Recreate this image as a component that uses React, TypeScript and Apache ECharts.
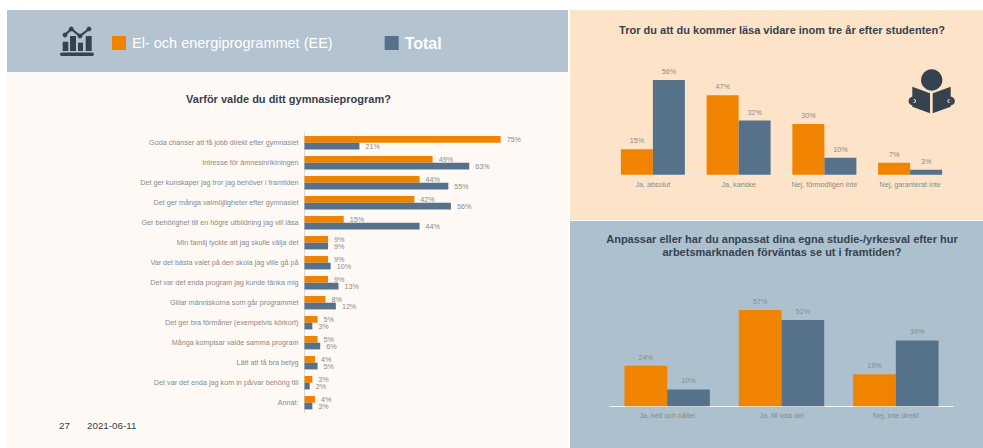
import React, { useEffect, useRef } from "react";
import * as echarts from "echarts";

const seriesEE = "El- och energiprogrammet (EE)";
const seriesTotal = "Total";
const reasonCategories = [
  "Goda chanser att få jobb direkt efter gymnasiet",
  "Intresse för ämnesinriktningen",
  "Det ger kunskaper jag tror jag behöver i framtiden",
  "Det ger många valmöjligheter efter gymnasiet",
  "Ger behörighet till en högre utbildning jag vill läsa",
  "Min familj tyckte att jag skulle välja det",
  "Var det bästa valet på den skola jag ville gå på",
  "Det var det enda program jag kunde tänka mig",
  "Gillar människorna som går programmet",
  "Det ger bra förmåner (exempelvis körkort)",
  "Många kompisar valde samma program",
  "Lätt att få bra betyg",
  "Det var det enda jag kom in på/var behörig till",
  "Annat:",
];
const reasonEE = [75, 49, 44, 42, 15, 9, 9, 9, 8, 5, 5, 4, 3, 4];
const reasonTotal = [21, 63, 55, 56, 44, 9, 10, 13, 12, 3, 6, 5, 2, 3];
const studyCategories = ["Ja, absolut", "Ja, kanske", "Nej, förmodligen inte", "Nej, garanterat inte"];
const studyEE = [15, 47, 30, 7];
const studyTotal = [56, 32, 10, 3];
const adaptCategories = ["Ja, helt och hållet", "Ja, till viss del", "Nej, inte direkt"];
const adaptEE = [24, 57, 19];
const adaptTotal = [10, 51, 39];

const ORANGE = "#f08300";
const BLUE = "#56728a";
const DARK = "#36424f";
const GREY = "#8a8a8a";
const PEACH = "#fde4c8";
const FONT = "'Liberation Sans', Arial, sans-serif";

const pct = (p: any) => `${p.value}%`;

function barSeries(name: string, data: number[], color: string, idx: number, width: number, horizontal: boolean) {
  return {
    type: "bar",
    name,
    data,
    xAxisIndex: idx,
    yAxisIndex: idx,
    barWidth: width,
    barGap: 0,
    itemStyle: { color },
    label: {
      show: true,
      position: horizontal ? "right" : "top",
      distance: horizontal ? 6 : 5,
      formatter: pct,
      fontSize: 7.2,
      fontFamily: FONT,
      color: GREY,
    },
  };
}

function catAxis(idx: number, data: string[], lineColor: string, inverse = false) {
  return {
    type: "category",
    gridIndex: idx,
    data,
    inverse,
    axisLine: { show: true, lineStyle: { color: lineColor, width: 1 } },
    axisTick: { show: false },
    axisLabel: { interval: 0, fontSize: 7.2, fontFamily: FONT, color: GREY, margin: 6 },
  };
}

function valAxis(idx: number) {
  return { type: "value", gridIndex: idx, min: 0, max: 100, show: false, splitLine: { show: false } };
}

const dark = { fill: DARK };
const chartIcon = [
  { type: "rect", shape: { x: 60, y: 52.5, width: 34, height: 3.5, r: 1.7 }, style: dark },
  { type: "rect", shape: { x: 62.7, y: 41.7, width: 5.6, height: 9.3 }, style: dark },
  { type: "rect", shape: { x: 70, y: 36, width: 6, height: 15 }, style: dark },
  { type: "rect", shape: { x: 78, y: 42.7, width: 5, height: 8.3 }, style: dark },
  { type: "rect", shape: { x: 85.7, y: 36, width: 6, height: 15 }, style: dark },
  {
    type: "polyline",
    shape: { points: [[65, 35], [71.3, 29], [80, 36], [89, 29]] },
    style: { stroke: DARK, lineWidth: 2.2, fill: "none" },
  },
  { type: "circle", shape: { cx: 65, cy: 35, r: 2.4 }, style: dark },
  { type: "circle", shape: { cx: 71.3, cy: 29, r: 2.4 }, style: dark },
  { type: "circle", shape: { cx: 80, cy: 36, r: 2.4 }, style: dark },
  { type: "circle", shape: { cx: 89, cy: 29, r: 2.4 }, style: dark },
];
const readerIcon = [
  { type: "circle", shape: { cx: 931.7, cy: 80, r: 10.7 }, style: dark },
  { type: "polygon", shape: { points: [[912.3, 86.7], [930, 93.3], [930, 113.3], [912.3, 106.7]] }, style: dark },
  { type: "polygon", shape: { points: [[932.7, 93.3], [950.7, 86.7], [950.7, 106.7], [932.7, 113.3]] }, style: dark },
  { type: "circle", shape: { cx: 913, cy: 101, r: 4.4 }, style: { fill: DARK } },
  { type: "circle", shape: { cx: 950.4, cy: 101, r: 4.4 }, style: { fill: DARK } },
  { type: "circle", shape: { cx: 914, cy: 101, r: 2 }, style: { fill: PEACH } },
  { type: "circle", shape: { cx: 949.4, cy: 101, r: 2 }, style: { fill: PEACH } },
  { type: "circle", shape: { cx: 913.2, cy: 101, r: 1.7 }, style: { fill: DARK } },
  { type: "circle", shape: { cx: 950.2, cy: 101, r: 1.7 }, style: { fill: DARK } },
];

export default function App() {
  const ref = useRef<HTMLDivElement>(null);
  useEffect(() => {
    const chart = echarts.init(ref.current!, undefined, { renderer: "svg" });
    chart.setOption({
      animation: false,
      backgroundColor: "#ffffff",
      textStyle: { fontFamily: FONT },
      legend: {
        left: 112,
        top: 35,
        padding: 0,
        itemWidth: 14,
        itemHeight: 14,
        itemGap: 52,
        icon: "rect",
        data: [seriesEE, seriesTotal],
        selectedMode: false,
        formatter: (n: string) => (n === seriesTotal ? `{b|${n}}` : `{a|${n}}`),
        textStyle: {
          padding: [0, 0, 0, 1],
          rich: {
            a: { fontSize: 14.5, color: "#ffffff", fontFamily: FONT },
            b: { fontSize: 16, color: "#ffffff", fontWeight: "bold", fontFamily: FONT },
          },
        },
      },
      title: [
        { text: "Varför valde du ditt gymnasieprogram?", left: 288.5, top: 93, padding: 0, textAlign: "center", textStyle: { fontSize: 11, fontWeight: "bold", color: DARK, fontFamily: FONT } },
        { text: "Tror du att du kommer läsa vidare inom tre år efter studenten?", left: 782, top: 24, padding: 0, textAlign: "center", textStyle: { fontSize: 11, fontWeight: "bold", color: DARK, fontFamily: FONT } },
        { text: "Anpassar eller har du anpassat dina egna studie-/yrkesval efter hur\narbetsmarknaden förväntas se ut i framtiden?", left: 782, top: 232, padding: 0, textAlign: "center", textStyle: { fontSize: 11, lineHeight: 13.5, fontWeight: "bold", color: DARK, fontFamily: FONT } },
      ],
      graphic: [
        {
          type: "group",
          silent: true,
          z: -10,
          children: [
            { type: "rect", shape: { x: 7, y: 10, width: 561, height: 62 }, style: { fill: "#b3c3cf" } },
            { type: "rect", shape: { x: 7, y: 72, width: 561, height: 376 }, style: { fill: "#fef9f5" } },
            { type: "rect", shape: { x: 570, y: 10, width: 413, height: 210 }, style: { fill: PEACH } },
            { type: "rect", shape: { x: 570, y: 221, width: 413, height: 227 }, style: { fill: "#adc0ce" } },
          ],
        },
        { type: "group", silent: true, children: chartIcon },
        { type: "group", silent: true, children: readerIcon },
        { type: "text", x: 59, y: 420.5, style: { text: "27", fontSize: 9.8, fontFamily: FONT, fill: DARK } },
        { type: "text", x: 87, y: 420.5, style: { text: "2021-06-11", fontSize: 9.8, fontFamily: FONT, fill: DARK } },
      ],
      grid: [
        { left: 304.5, top: 132.7, width: 261.5, height: 280 },
        { left: 610, top: 5.7, width: 343, height: 169 },
        { left: 610, top: 237.3, width: 343, height: 169 },
      ],
      xAxis: [valAxis(0), catAxis(1, studyCategories, "#f3e9df"), catAxis(2, adaptCategories, "#f2f5f7")],
      yAxis: [catAxis(0, reasonCategories, "#d9d9d9", true), valAxis(1), valAxis(2)],
      series: [
        barSeries(seriesEE, reasonEE, ORANGE, 0, 6.7, true),
        barSeries(seriesTotal, reasonTotal, BLUE, 0, 6.7, true),
        barSeries(seriesEE, studyEE, ORANGE, 1, 32, false),
        barSeries(seriesTotal, studyTotal, BLUE, 1, 32, false),
        barSeries(seriesEE, adaptEE, ORANGE, 2, 42.7, false),
        barSeries(seriesTotal, adaptTotal, BLUE, 2, 42.7, false),
      ],
    });
    return () => chart.dispose();
  }, []);
  return <div ref={ref} style={{ position: "fixed", left: 0, top: 0, width: 983, height: 448 }} />;
}
